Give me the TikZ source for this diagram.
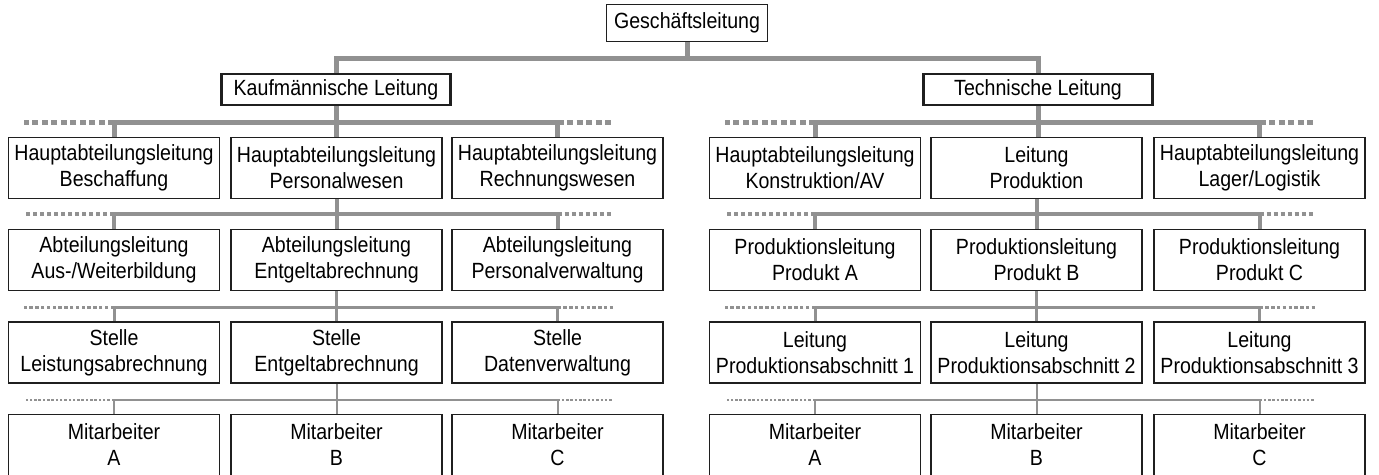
\documentclass[tikz,border=0pt]{standalone}
\usepackage{fontspec}
\setmainfont{Liberation Sans}[FakeStretch=0.89]
\tikzset{
  box/.style={draw=black!88, line width=1.6pt, minimum width=211pt, minimum height=61pt, inner sep=0pt, align=center},
  leitung/.style={box, line width=2.6pt, minimum width=229pt, minimum height=31pt},
  spitze/.style={box, minimum width=161pt, minimum height=37pt},
  linie1/.style={color=black!43, line width=5pt},
  linie2/.style={color=black!43, line width=5pt},
  linie3/.style={color=black!43, line width=4pt},
  linie4/.style={color=black!43, line width=3pt},
  linie5/.style={color=black!43, line width=2pt},
  punkt2/.style={linie2, dash pattern=on 6pt off 3.5pt},
  punkt3/.style={linie3, dash pattern=on 4.5pt off 2.5pt},
  punkt4/.style={linie4, dash pattern=on 3.5pt off 2.3pt},
  punkt5/.style={linie5, dash pattern=on 2.5pt off 1.8pt}
}
% Ebene, Vorgesetzter, drei Unterstellte, Hoehe der Linie
\def\stufe[#1](#2)(#3,#4,#5)(#6){%
  \draw[linie#1] (#3.north) |- (#2.south |- #6) -| (#5.north);
  \draw[linie#1] (#2.south) -- (#2.south |- #4.north);
  \draw[punkt#1] (#3.north |- #6) -- ++(-90,0);
  \draw[punkt#1] (#5.north |- #6) -- ++(55,0);}

\begin{document}
\begin{tikzpicture}[x=1pt, y=-1pt, font=\fontsize{22}{26}\selectfont]
			%%%%% START %%%%%
			\useasboundingbox (0,0) rectangle (1379,474);
			\fill[white] (0,0) rectangle (1379,474);
			\clip (0,0) rectangle (1379,474);
			
			\node[spitze] (gl) at (687, 23) {Geschäftsleitung};
			\node[leitung] (kl) at (336, 89.5) {Kaufmännische Leitung};
			\node[leitung] (tl) at (1038, 89.5) {Technische Leitung};
			
			\coordinate (h1) at (687, 58);
			\coordinate (h2) at (0, 122);
			\coordinate (h3) at (0, 214);
			\coordinate (h4) at (0, 307);
			\coordinate (h5) at (0, 400);
			
			% kaufmaennischer Bereich
			\node[box] (b11) at (114, 168) {Hauptabteilungsleitung\\Beschaffung};
			\node[box] (b12) at (336.5, 168) {Hauptabteilungsleitung\\Personalwesen};
			\node[box] (b13) at (557.5, 168) {Hauptabteilungsleitung\\Rechnungswesen};
			
			\node[box] (c11) at (114, 260) {Abteilungsleitung\\Aus-/Weiterbildung};
			\node[box] (c12) at (336.5, 260) {Abteilungsleitung\\Entgeltabrechnung};
			\node[box] (c13) at (557.5, 260) {Abteilungsleitung\\Personalverwaltung};
			
			\node[box] (d11) at (114, 352.5) {Stelle\\Leistungsabrechnung};
			\node[box] (d12) at (336.5, 352.5) {Stelle\\Entgeltabrechnung};
			\node[box] (d13) at (557.5, 352.5) {Stelle\\Datenverwaltung};
			
			\node[box] (e11) at (114, 445) {Mitarbeiter\\A};
			\node[box] (e12) at (336.5, 445) {Mitarbeiter\\B};
			\node[box] (e13) at (557.5, 445) {Mitarbeiter\\C};
			
			% technischer Bereich
			\node[box] (b21) at (815, 168) {Hauptabteilungsleitung\\Konstruktion/AV};
			\node[box] (b22) at (1036.5, 168) {Leitung\\Produktion};
			\node[box] (b23) at (1259.5, 168) {Hauptabteilungsleitung\\Lager/Logistik};
			
			\node[box] (c21) at (815, 260) {Produktionsleitung\\Produkt A};
			\node[box] (c22) at (1036.5, 260) {Produktionsleitung\\Produkt B};
			\node[box] (c23) at (1259.5, 260) {Produktionsleitung\\Produkt C};
			
			\node[box] (d21) at (815, 352.5) {Leitung\\Produktionsabschnitt 1};
			\node[box] (d22) at (1036.5, 352.5) {Leitung\\Produktionsabschnitt 2};
			\node[box] (d23) at (1259.5, 352.5) {Leitung\\Produktionsabschnitt 3};
			
			\node[box] (e21) at (815, 445) {Mitarbeiter\\A};
			\node[box] (e22) at (1036.5, 445) {Mitarbeiter\\B};
			\node[box] (e23) at (1259.5, 445) {Mitarbeiter\\C};
			
			% Verbindungen
			\draw[linie1] (kl.north) |- (h1) -| (tl.north);
			\draw[linie1] (gl.south) -- (h1);
			
			\stufe[2](kl)(b11,b12,b13)(h2)
			\stufe[3](b12)(c11,c12,c13)(h3)
			\stufe[4](c12)(d11,d12,d13)(h4)
			\stufe[5](d12)(e11,e12,e13)(h5)
			
			\stufe[2](tl)(b21,b22,b23)(h2)
			\stufe[3](b22)(c21,c22,c23)(h3)
			\stufe[4](c22)(d21,d22,d23)(h4)
			\stufe[5](d22)(e21,e22,e23)(h5)
			%%%%% END %%%%%
\end{tikzpicture}
\end{document}
